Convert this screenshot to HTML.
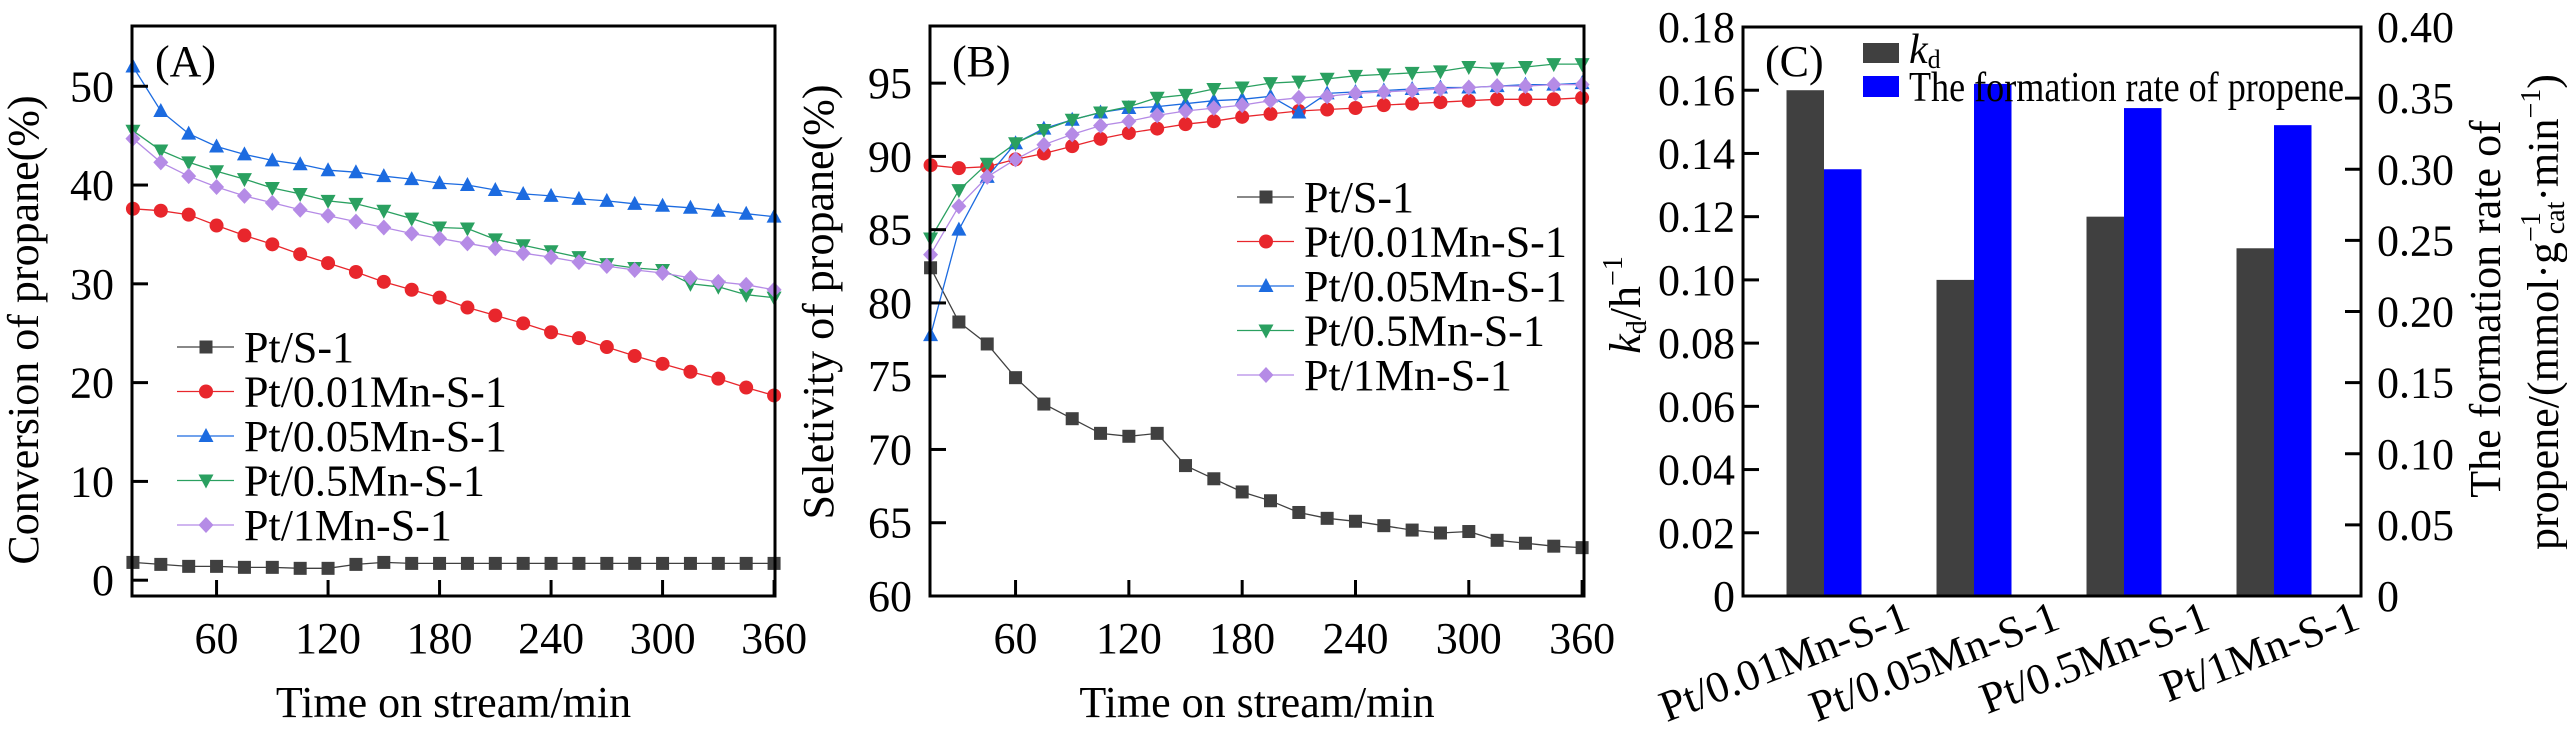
<!DOCTYPE html>
<html><head><meta charset="utf-8"><style>
html,body{margin:0;padding:0;background:#fff}
svg{display:block;font-family:"Liberation Serif",serif}
</style></head><body>
<svg id="fig" width="2567" height="735" viewBox="0 0 2567 735"></svg>
<script>
const times=[15,30,45,60,75,90,105,120,135,150,165,180,195,210,225,240,255,270,285,300,315,330,345,360];
const seriesNames=["Pt/S-1","Pt/0.01Mn-S-1","Pt/0.05Mn-S-1","Pt/0.5Mn-S-1","Pt/1Mn-S-1"];
const convPtS1=[1.8,1.6,1.4,1.4,1.3,1.3,1.2,1.2,1.6,1.8,1.7,1.7,1.7,1.7,1.7,1.7,1.7,1.7,1.7,1.7,1.7,1.7,1.7,1.7];
const conv001=[37.6,37.4,37.0,35.9,34.9,34.0,33.0,32.1,31.2,30.2,29.4,28.6,27.6,26.8,26.0,25.1,24.5,23.6,22.7,21.9,21.1,20.4,19.5,18.7];
const conv005=[52.0,47.5,45.2,43.9,43.1,42.5,42.1,41.5,41.3,40.9,40.6,40.2,40.0,39.5,39.1,38.9,38.6,38.4,38.1,37.9,37.7,37.4,37.1,36.8];
const conv05=[45.5,43.5,42.3,41.4,40.6,39.7,39.1,38.4,38.1,37.4,36.6,35.7,35.6,34.5,33.9,33.3,32.7,32.0,31.6,31.4,30.0,29.7,28.9,28.6];
const conv1=[44.7,42.3,40.9,39.8,38.9,38.2,37.5,36.9,36.3,35.7,35.1,34.6,34.1,33.6,33.1,32.7,32.2,31.8,31.4,31.1,30.6,30.2,29.9,29.4];
const selPtS1=[82.4,78.7,77.2,74.9,73.1,72.1,71.1,70.9,71.1,68.9,68.0,67.1,66.5,65.7,65.3,65.1,64.8,64.5,64.3,64.4,63.8,63.6,63.4,63.3];
const sel001=[89.4,89.2,89.3,89.8,90.2,90.7,91.2,91.6,91.9,92.2,92.4,92.7,92.9,93.1,93.2,93.3,93.5,93.6,93.7,93.8,93.9,93.9,93.9,94.0];
const sel005=[77.8,85.0,88.6,90.9,91.9,92.5,93.0,93.3,93.4,93.6,93.8,93.9,94.1,93.0,94.3,94.4,94.5,94.6,94.7,94.7,94.8,94.9,94.9,95.0];
const sel05=[84.4,87.7,89.5,90.9,91.8,92.5,93.0,93.4,94.0,94.2,94.6,94.7,95.0,95.1,95.3,95.5,95.6,95.7,95.8,96.1,96.0,96.1,96.3,96.3];
const sel1=[83.3,86.6,88.6,89.8,90.8,91.5,92.1,92.4,92.8,93.1,93.3,93.5,93.8,94.0,94.1,94.3,94.4,94.5,94.6,94.7,94.8,94.8,94.9,94.9];
const xTicks=[60,120,180,240,300,360];
const yTicksA=[0,10,20,30,40,50];
const yTicksB=[60,65,70,75,80,85,90,95];
const categories=["Pt/0.01Mn-S-1","Pt/0.05Mn-S-1","Pt/0.5Mn-S-1","Pt/1Mn-S-1"];
const kdValues=[0.16,0.10,0.12,0.11];
const rateValues=[0.30,0.36,0.343,0.331];
const kdTicks=["0","0.02","0.04","0.06","0.08","0.10","0.12","0.14","0.16","0.18"];
const rateTicks=["0","0.05","0.10","0.15","0.20","0.25","0.30","0.35","0.40"];

const NS="http://www.w3.org/2000/svg";
const svg=document.getElementById('fig');
function mk(tag,attrs,parent,text){const e=document.createElementNS(NS,tag);for(const k in attrs)e.setAttribute(k,attrs[k]);if(text!==undefined)e.textContent=text;(parent||svg).appendChild(e);return e;}
const colors=["#404040","#e8262c","#1c6be0","#2aa060","#b58be6"];
const shapes=["square","circle","up","down","diamond"];
function marker(g,shape,x,y,c){
  let e;
  if(shape==="square")e=mk('rect',{x:x-6.5,y:y-6.5,width:13,height:13,fill:c},g);
  else if(shape==="circle")e=mk('circle',{cx:x,cy:y,r:7,fill:c},g);
  else if(shape==="up")e=mk('polygon',{points:`${x},${y-8} ${x+7.5},${y+6} ${x-7.5},${y+6}`,fill:c},g);
  else if(shape==="down")e=mk('polygon',{points:`${x},${y+8} ${x+7.5},${y-6} ${x-7.5},${y-6}`,fill:c},g);
  else e=mk('polygon',{points:`${x},${y-8} ${x+7.5},${y} ${x},${y+8} ${x-7.5},${y}`,fill:c},g);
  
  
}

function linePanel(cfg){
  const {L,R,T,B,xmin,xmax,ymin,ymax,data,yTicks,tickRight,ylabel,ylx,yly,tag,tagx,legX,legY,name}=cfg;
  const g=mk('g',{});
  
  
  const sx=v=>L+(v-xmin)/(xmax-xmin)*(R-L);
  const sy=v=>B-(v-ymin)/(ymax-ymin)*(B-T);
  data.forEach((arr,si)=>{
    const sg=mk('g',{},g);
    
    
    const pts=arr.map((v,i)=>sx(times[i]).toFixed(1)+','+sy(v).toFixed(1)).join(' ');
    const pl=mk('polyline',{points:pts,fill:'none',stroke:colors[si],'stroke-width':1.3},sg);
    
    
    arr.forEach((v,i)=>marker(sg,shapes[si],sx(times[i]),sy(v),colors[si]));
  });
  const fr=mk('rect',{x:L,y:T,width:R-L,height:B-T,fill:'none',stroke:'#000','stroke-width':3},g);
  
  
  xTicks.forEach(t=>{
    const x=sx(t);
    mk('line',{x1:x,y1:B,x2:x,y2:B-16,stroke:'#000','stroke-width':3},g);
    const tl=mk('text',{x:x,y:653,'font-size':44,'text-anchor':'middle'},g,String(t));
    
    
  });
  yTicks.forEach(t=>{
    const y=sy(t);
    mk('line',{x1:L,y1:y,x2:L+16,y2:y,stroke:'#000','stroke-width':3},g);
    const tl=mk('text',{x:tickRight,y:y+15,'font-size':44,'text-anchor':'end'},g,String(t));
    
    
  });
  const xt=mk('text',{x:(L+R)/2,y:717,'font-size':44,'text-anchor':'middle'},g,'Time on stream/min');
  
  
  const yt=mk('text',{x:ylx,y:yly,'font-size':44,'text-anchor':'middle',transform:`rotate(-90 ${ylx} ${yly})`},g,ylabel);
  
  
  const pt=mk('text',{x:tagx,y:76,'font-size':44},g,tag);
  
  
  const lg=mk('g',{},g);
  
  
  seriesNames.forEach((n,i)=>{
    const y=legY+i*44.5;
    const eg=mk('g',{},lg);
    
    
    mk('line',{x1:legX,y1:y,x2:legX+57,y2:y,stroke:colors[i],'stroke-width':1.3},eg);
    marker(eg,shapes[i],legX+29,y,colors[i]);
    mk('text',{x:legX+67,y:y+15,'font-size':44},eg,n);
  });
}

linePanel({name:'panel-a-conversion',L:132,R:775,T:26,B:596,xmin:14.5,xmax:360.5,ymin:-1.6,ymax:56.1,
  data:[convPtS1,conv001,conv005,conv05,conv1],yTicks:yTicksA,tickRight:114,
  ylabel:'Conversion of propane(%)',ylx:38,yly:330,tag:'(A)',tagx:155,legX:177,legY:347});
linePanel({name:'panel-b-selectivity',L:930,R:1584,T:26,B:596,xmin:14.7,xmax:361,ymin:60,ymax:98.9,
  data:[selPtS1,sel001,sel005,sel05,sel1],yTicks:yTicksB,tickRight:912,
  ylabel:'Seletivity of propane(%)',ylx:833,yly:302,tag:'(B)',tagx:952,legX:1237,legY:197});

// Panel C
(function(){
  const L=1743,R=2361,T=27,B=596;
  const g=mk('g',{});
  
  
  const syL=v=>B-v/0.18*(B-T);
  const syR=v=>B-v/0.40*(B-T);
  const cx=i=>1824+150*i;
  const bw=37.5;
  categories.forEach((c,i)=>{
    const k=mk('rect',{x:cx(i)-bw,y:syL(kdValues[i]),width:bw,height:B-syL(kdValues[i]),fill:'#404040'},g);
    
    
    const r=mk('rect',{x:cx(i),y:syR(rateValues[i]),width:bw,height:B-syR(rateValues[i]),fill:'#0000ff'},g);
    
    
    const lx=cx(i)+88,ly=628;
    const cl=mk('text',{x:lx,y:ly,'font-size':44,'text-anchor':'end',transform:`rotate(-21 ${lx} ${ly})`},g,c);
    
    
  });
  const fr=mk('rect',{x:L,y:T,width:R-L,height:B-T,fill:'none',stroke:'#000','stroke-width':3},g);
  
  
  kdTicks.forEach((t,i)=>{
    const y=syL(i*0.02);
    mk('line',{x1:L,y1:y,x2:L+16,y2:y,stroke:'#000','stroke-width':3},g);
    const tl=mk('text',{x:1735,y:y+15,'font-size':44,'text-anchor':'end'},g,t);
    
    
  });
  rateTicks.forEach((t,i)=>{
    const y=syR(i*0.05);
    mk('line',{x1:R,y1:y,x2:R-16,y2:y,stroke:'#000','stroke-width':3},g);
    const tl=mk('text',{x:2377,y:y+15,'font-size':44},g,t);
    
    
  });
  const yl=mk('text',{x:1640,y:305,'font-size':44,'text-anchor':'middle',transform:'rotate(-90 1640 305)'},g);
  
  
  mk('tspan',{'font-style':'italic'},yl,'k');
  mk('tspan',{'font-size':28,dy:6},yl,'d');
  mk('tspan',{dy:-6},yl,'/h');
  mk('tspan',{'font-size':28,dy:-18},yl,'\u22121');
  const r1=mk('text',{x:2500,y:309,'font-size':44,'text-anchor':'middle',transform:'rotate(-90 2500 309)'},g,'The formation rate of');
  
  
  const r2=mk('text',{x:2558,y:312,'font-size':44,'text-anchor':'middle',transform:'rotate(-90 2558 312)'},g);
  
  
  mk('tspan',{},r2,'propene/(mmol\u00b7g');
  mk('tspan',{'font-size':28,dy:-18},r2,'\u22121');
  mk('tspan',{'font-size':28,dy:24,dx:-22},r2,'cat');
  mk('tspan',{dy:-6},r2,'\u00b7min');
  mk('tspan',{'font-size':28,dy:-18},r2,'\u22121');
  mk('tspan',{dy:18},r2,')');
  const pt=mk('text',{x:1765,y:76,'font-size':44},g,'(C)');
  
  
  const lg=mk('g',{},g);
  
  
  mk('rect',{x:1863,y:43,width:36,height:20,fill:'#404040'},lg);
  const t1=mk('text',{x:1909,y:63,'font-size':42},lg);
  mk('tspan',{'font-style':'italic'},t1,'k');
  mk('tspan',{'font-size':26,dy:5},t1,'d');
  mk('rect',{x:1863,y:76,width:36,height:21,fill:'#0000ff'},lg);
  mk('text',{x:1909,y:101,'font-size':42,textLength:435,lengthAdjust:'spacingAndGlyphs'},lg,'The formation rate of propene');
})();
</script>
</body></html>
